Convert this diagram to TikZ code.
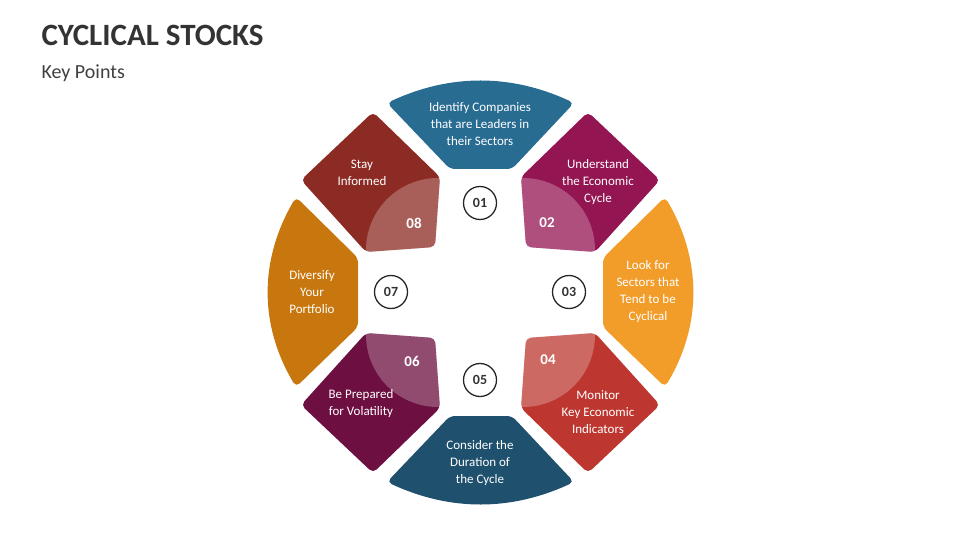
\documentclass[tikz,border=0pt]{standalone}
\usepackage{fontspec}
\setmainfont{Carlito}
\begin{document}
\begin{tikzpicture}[x=1pt,y=-1pt,
  seg/.style={rounded corners=5pt},
  txt/.style={text=white,align=center,font=\fontsize{13}{17}\selectfont},
  num/.style={text=white,font=\bfseries\fontsize{15}{18}\selectfont},
  badge/.style={circle,draw=black!85,line width=1.3pt,minimum size=33pt,inner sep=0pt,font=\bfseries\fontsize{14}{16}\selectfont,text=black!80}]
\definecolor{c1}{HTML}{286C92}\definecolor{c2}{HTML}{931552}
\definecolor{c3}{HTML}{F29C2A}\definecolor{c4}{HTML}{BD3730}
\definecolor{c5}{HTML}{1F506D}\definecolor{c6}{HTML}{6D0F40}
\definecolor{c7}{HTML}{C7770E}\definecolor{c8}{HTML}{8C2A24}
\useasboundingbox (0,0) rectangle (960,540);
\node[anchor=west,font=\bfseries\fontsize{31}{34}\selectfont,text=black!80] (title) at (38,35) {CYCLICAL STOCKS};
\node[anchor=west,font=\fontsize{20}{24}\selectfont,text=black!75] (sub) at (38,73) {Key Points};
% 01 and 05
\fill[c1,seg] (387,103) .. controls (450,73.7) and (511,73.7) .. (574,103) -- (512,169) -- (450,169) -- cycle;
\fill[c5,seg] (387,482) .. controls (450,511.3) and (511,511.3) .. (574,482) -- (512,416) -- (450,416) -- cycle;
% 03 and 07
\fill[c3,seg] (603,258) -- (665,197) .. controls (702,260) and (702,325) .. (665,387) -- (603,327) -- cycle;
\fill[c7,seg] (358,258) -- (296,197) .. controls (259,260) and (259,325) .. (296,387) -- (358,327) -- cycle;
% diagonals
\def\diag#1#2#3{%
 \begin{scope}[shift={(480.5,292.5)},xscale=#1,yscale=#2]
  \fill[#3,seg] (40.5,-115.5) -- (107.5,-180.5) -- (179.5,-112.5) -- (114.5,-40.5) -- (45.5,-45.5) -- cycle;
  \begin{scope}
   \clip[seg] (40.5,-115.5) -- (107.5,-180.5) -- (179.5,-112.5) -- (114.5,-40.5) -- (45.5,-45.5) -- cycle;
   \fill[white,opacity=0.25] (42.5,-42.5) circle (72);
  \end{scope}
 \end{scope}}
\diag{1}{1}{c2}\diag{1}{-1}{c4}\diag{-1}{-1}{c6}\diag{-1}{1}{c8}
\node[txt] (t1) at (480,124) {Identify Companies\\that are Leaders in\\their Sectors};
\node[txt] (t2) at (598,182) {Understand\\the Economic\\Cycle};
\node[txt] (t3) at (648,292) {Look for\\Sectors that\\Tend to be\\Cyclical};
\node[txt] (t4) at (598,412) {Monitor\\Key Economic\\Indicators};
\node[txt] (t5) at (480,463) {Consider the\\Duration of\\the Cycle};
\node[txt] (t6) at (361,404) {Be Prepared\\for Volatility};
\node[txt] (t7) at (312,292) {Diversify\\Your\\Portfolio};
\node[txt] (t8) at (362,173) {Stay\\Informed};
\node[num] (n2) at (547,223) {02};
\node[num] (n4) at (548,360) {04};
\node[num] (n6) at (412,361) {06};
\node[num] (n8) at (414,223) {08};
\node[badge] (b1) at (480,203) {01};
\node[badge] (b3) at (569,292) {03};
\node[badge] (b5) at (480,380) {05};
\node[badge] (b7) at (391,292) {07};
\end{tikzpicture}
\end{document}
